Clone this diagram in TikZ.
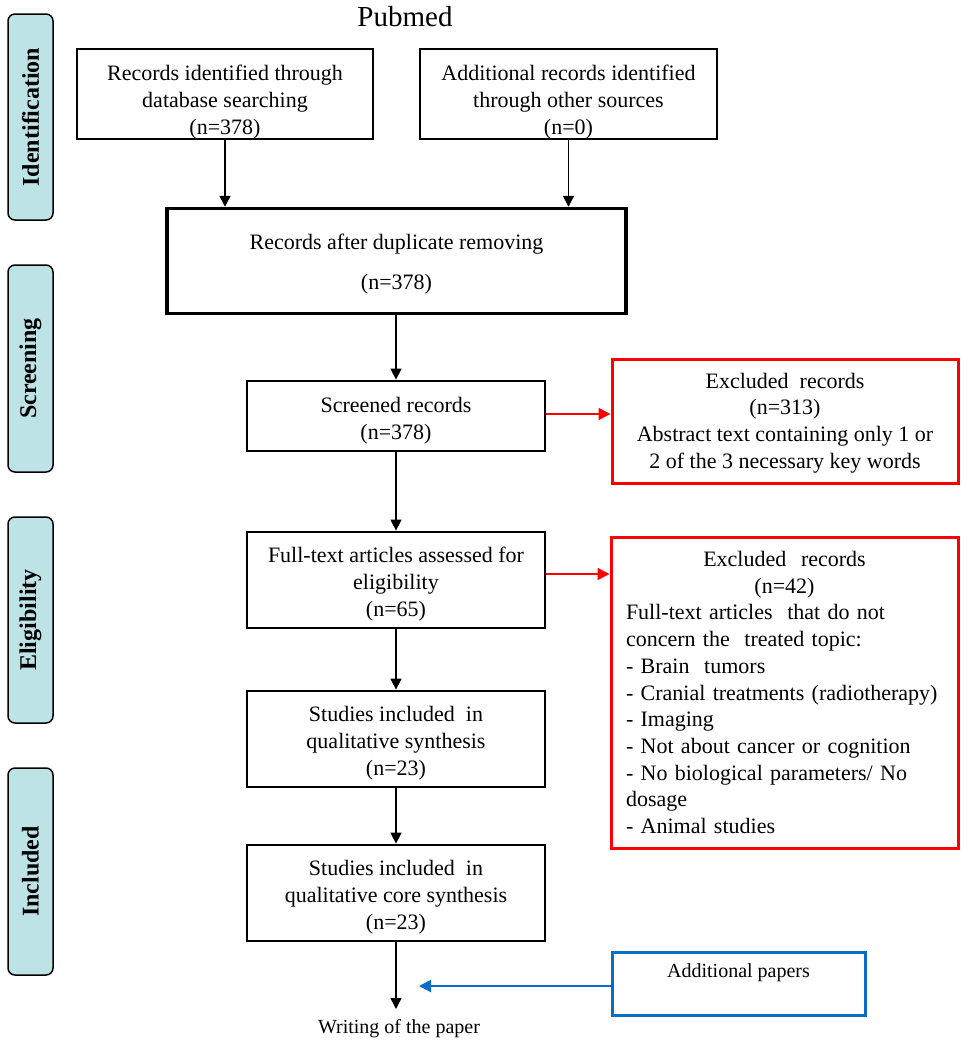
\documentclass[tikz,border=0pt]{standalone}
\usepackage{fontspec}
\setmainfont{Liberation Serif}
\usetikzlibrary{arrows.meta}
\definecolor{barfill}{HTML}{BDE3E6}
\definecolor{exred}{HTML}{FF0000}
\definecolor{addblue}{HTML}{0A6CC6}
\newcommand{\boxlift}[1]{\rule{0pt}{#1}}
\begin{document}
\begin{tikzpicture}[x=1pt,y={(0pt,-1pt)},
  txt/.style={font=\fontsize{22}{27}\selectfont, align=center, inner sep=0pt},
  box/.style={draw=black, line width=2.8pt, txt},
  thinbox/.style={draw=black, line width=2pt, txt},
  exbox/.style={draw=exred, line width=3pt, font=\fontsize{22}{26.7}\selectfont, inner sep=0pt},
  phase/.style={draw=black, line width=1.5pt, fill=barfill, rounded corners=7pt,
    minimum width=45pt, font=\fontsize{24}{28}\selectfont\bfseries, inner sep=0pt},
  arr/.style={-{Triangle[length=11pt,width=11pt]}, line width=1.5pt, draw=black},
  redarr/.style={-{Triangle[length=12pt,width=12pt]}, line width=1.5pt, draw=exred, color=exred},
  bluearr/.style={-{Triangle[length=12pt,width=12pt]}, line width=2pt, draw=addblue, color=addblue}]
\useasboundingbox (0,0) rectangle (967,1045);

% phase bars
\node[phase, minimum height=206pt] (pid) at (30.5,117) {\rotatebox{90}{Identification}};
\node[phase, minimum height=207pt] (pscr) at (30.5,368.5) {\rotatebox{90}{Screening}};
\node[phase, minimum height=206pt] (pel) at (30.5,620) {\rotatebox{90}{Eligibility}};
\node[phase, minimum height=207pt] (pinc) at (30.5,871.5) {\rotatebox{90}{Included}};

% title
\node[font=\fontsize{29}{32}\selectfont, inner sep=0pt] (title) at (405,17) {Pubmed};

% boxes
\node[thinbox, minimum width=296pt, minimum height=90pt] (b1) at (225,94)
  {\boxlift{31pt}Records identified through\\ database searching\\ (n=378)};
\node[thinbox, minimum width=297pt, minimum height=90pt] (b2) at (568.5,94)
  {\boxlift{31pt}Additional records identified\\ through other sources\\ (n=0)};
\node[box, line width=3.5pt, minimum width=459pt, minimum height=105pt] (mid) at (396.5,261)
  {\boxlift{21pt}Records after duplicate removing\\[13pt] (n=378)};
\node[box, minimum width=298pt, minimum height=70pt] (scr) at (396,416)
  {\boxlift{24pt}Screened records\\ (n=378)};
\node[box, minimum width=298pt, minimum height=96pt] (full) at (396,580)
  {\boxlift{23pt}Full-text articles assessed for\\ eligibility\\ (n=65)};
\node[box, minimum width=298pt, minimum height=96pt] (st1) at (396,739)
  {\boxlift{23pt}Studies included\ \ in\\ qualitative synthesis\\ (n=23)};
\node[box, minimum width=298pt, minimum height=96pt] (core) at (396,893)
  {\boxlift{23pt}Studies included\ \ in\\ qualitative core synthesis\\ (n=23)};

\node[exbox, align=center, minimum width=346pt, minimum height=124pt] (ex1) at (785,421)
  {\boxlift{19pt}Excluded\ \ records\\ (n=313)\\ Abstract text containing only 1 or\\ 2 of the 3 necessary key words};
\node[exbox, align=left, minimum width=347pt, minimum height=311pt, text width=317pt] (ex2) at (784.5,692.5)
  {\makebox[317pt]{Excluded\ \ records}\\
   \makebox[317pt]{(n=42)}\\
   Full-text articles\ \ that do not\\
   concern the\ \ treated topic:\\
   - Brain\ \ tumors\\
   - Cranial treatments (radiotherapy)\\
   - Imaging\\
   - Not about cancer or cognition\\
   - No biological parameters/ No\\
   dosage\\
   - Animal studies};

\node[draw=addblue, line width=3pt, minimum width=253pt, minimum height=63pt,
      inner sep=0pt] (add) at (738.5,983.5) {};
\node[font=\fontsize{20}{24}\selectfont, inner sep=0pt] (addtxt) at (738.5,973) {Additional papers};

\coordinate (wend) at (396,1009);
\coordinate (btip) at (419,986);
\node[font=\fontsize{20}{24}\selectfont, inner sep=0pt] (write) at (399,1029) {Writing of the paper};

% connectors
\draw[arr] (b1.south) -- (b1.south |- mid.north);
\draw[arr] (b2.south) -- (b2.south |- mid.north);
\draw[arr] (scr.north |- mid.south) -- (scr.north);
\draw[arr] (scr.south) -- (full.north);
\draw[arr] (full.south) -- (st1.north);
\draw[arr] (st1.south) -- (core.north);
\draw[arr] (core.south) -- (wend);
\draw[redarr] ([yshift=2pt]scr.east) -- ([yshift=2pt]scr.east -| ex1.west);
\draw[redarr] ([yshift=6pt]full.east) -- ([yshift=6pt]full.east -| ex2.west);
\draw[bluearr] (add.west |- btip) -- (btip);
\end{tikzpicture}
\end{document}
